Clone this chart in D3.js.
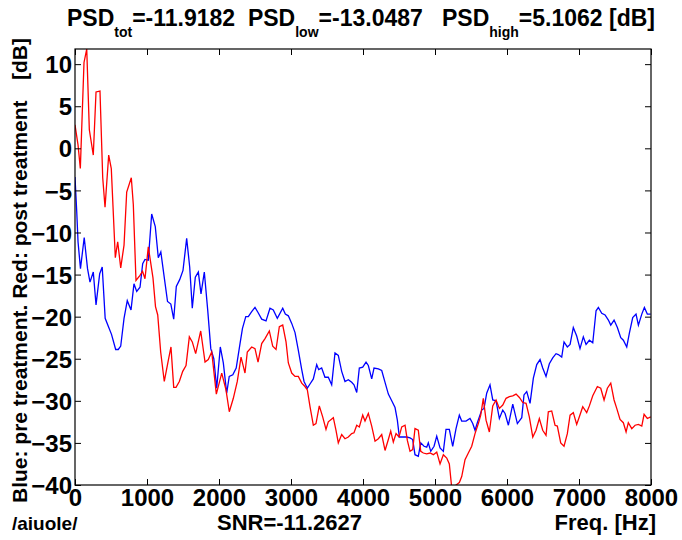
<!DOCTYPE html>
<html>
<head>
<meta charset="utf-8">
<script src="https://cdn.jsdelivr.net/npm/d3@7/dist/d3.min.js"></script>
<style>
  html, body { margin: 0; padding: 0; background: #fff; }
  svg { display: block; }
  text { font-family: "Liberation Sans", Arial, sans-serif; font-weight: bold; fill: #000; }
</style>
</head>
<body>
<svg id="chart" width="682" height="540"></svg>
<script>
// ---- data ----
const freqRed = [0,42,74,125,163,199,254,292,347,385,417,468,504,560,593,635,681,718,782,810,847,903,938,972,1018,1083,1118,1149,1190,1240,1296,1333,1371,1403,1449,1496,1542,1588,1629,1676,1746,1806,1851,1899,1963,2038,2097,2143,2199,2254,2306,2361,2393,2454,2500,2542,2593,2639,2699,2746,2792,2838,2885,2931,2963,3010,3056,3102,3149,3194,3227,3264,3310,3347,3393,3440,3486,3518,3588,3625,3657,3704,3750,3796,3843,3875,3913,3949,3996,4028,4074,4121,4167,4213,4260,4306,4352,4385,4421,4459,4500,4538,4584,4616,4653,4690,4722,4768,4802,4838,4885,4931,4977,5024,5070,5116,5163,5199,5232,5278,5338,5371,5417,5463,5510,5556,5602,5635,5671,5709,5755,5802,5848,5894,5941,5987,6033,6080,6126,6172,6219,6265,6310,6358,6403,6449,6496,6542,6574,6621,6667,6699,6746,6792,6838,6876,6921,6968,7005,7052,7107,7144,7191,7255,7302,7348,7394,7441,7487,7524,7570,7616,7654,7685,7733,7779,7825,7872,7904,7949,7996];
const dbRed = [2.8,0.4,-2.4,10.2,11.8,2.2,-0.8,6.7,6.8,-3.5,-7,-0.8,-2.4,-13,-11.1,-14.2,-11.5,-5.2,-3.5,-6.7,-15.7,-15.1,-14.6,-15.5,-11.7,-15.4,-18.8,-19.8,-24.2,-27.7,-25.2,-23.6,-28.4,-28.4,-27.7,-26.5,-25.8,-22.4,-23,-24.4,-21.7,-25.4,-25.1,-24.2,-29.2,-26.7,-28.7,-31.3,-29.7,-27.7,-24.8,-26.7,-24.2,-23.6,-23.8,-25.4,-23.2,-22.6,-21.7,-23.5,-23.9,-21.2,-21,-23,-25.5,-26.7,-27.1,-27.1,-27.9,-28.3,-28.7,-30.7,-32.9,-32.7,-30.6,-31.9,-33.4,-32.5,-32,-33.5,-35,-34,-34.5,-34.3,-33.9,-33.8,-32.9,-33.1,-31.7,-32.4,-31.5,-33,-34.8,-34.5,-34,-35.9,-34.6,-33.6,-34.9,-33.9,-34.3,-33.1,-32.9,-34.7,-36,-35.8,-33.3,-33.5,-36,-36.2,-36.3,-36.2,-36.4,-36.1,-37.5,-36.4,-36.8,-37.5,-40.3,-40.1,-39.7,-39,-37,-36.2,-35.4,-33.9,-32.7,-31.7,-29.7,-32.3,-33.7,-30.6,-29.9,-30.9,-30.5,-29.7,-29.5,-29.4,-29.2,-29.6,-30.2,-30.3,-31.9,-34.3,-33.5,-32.1,-33.5,-34.1,-31.3,-31.2,-32.9,-33,-35,-35.4,-33.9,-31.7,-31.4,-32.8,-31.9,-30.7,-31.4,-30.6,-29.4,-28.3,-28.5,-29.9,-28.5,-27.9,-29.9,-30.9,-32.2,-32.6,-33.7,-32.6,-33.3,-32.9,-32.8,-33,-31.6,-32.1,-31.9];

const freqBlue = [0,24,42,76,128,174,208,254,292,343,378,419,465,507,565,601,635,681,726,778,819,857,903,940,972,1018,1065,1115,1157,1192,1239,1285,1331,1371,1407,1454,1500,1551,1593,1629,1671,1713,1750,1796,1843,1886,1928,1968,2018,2060,2107,2142,2192,2239,2292,2326,2372,2407,2454,2500,2542,2593,2653,2708,2754,2810,2885,2921,2963,3010,3056,3102,3149,3181,3227,3264,3310,3357,3385,3426,3472,3518,3565,3611,3657,3704,3750,3796,3843,3875,3913,3949,3996,4042,4074,4121,4153,4213,4260,4306,4352,4399,4445,4477,4505,4552,4607,4653,4690,4722,4768,4802,4848,4885,4907,4941,4987,5024,5070,5116,5153,5199,5246,5292,5338,5371,5431,5486,5524,5556,5588,5649,5681,5718,5764,5802,5848,5894,5941,5973,6019,6080,6144,6205,6236,6274,6320,6366,6413,6459,6496,6542,6588,6635,6681,6713,6760,6792,6838,6876,6921,6968,7014,7060,7098,7144,7191,7237,7269,7316,7362,7408,7441,7487,7533,7580,7616,7663,7699,7746,7792,7825,7872,7908,7949,7996];
const dbBlue = [-3.4,-7.5,-11.1,-14.3,-10.6,-14.3,-15.9,-14.7,-18.6,-14.9,-14.1,-20.2,-21.2,-22.1,-23.9,-23.9,-23.5,-20.2,-18.1,-19.2,-16.1,-17,-16.5,-13.7,-13.2,-13.3,-7.8,-9.3,-13,-12.3,-15.3,-18.2,-18.5,-20.3,-16.4,-15.6,-14.5,-10.7,-14.1,-19,-15.3,-14.7,-17.3,-14.7,-19.2,-23.8,-25,-28.5,-23.6,-25.5,-29.1,-27.1,-26.9,-26.1,-23.2,-21.4,-20,-20,-19.4,-18.9,-19.5,-20.3,-20.5,-19,-19.2,-20.2,-19,-19.7,-19.9,-20.8,-21.9,-24,-26.3,-27.7,-28.5,-28,-27.4,-25.7,-26.3,-26.1,-27.2,-27.2,-28.1,-24.3,-24.6,-26.5,-27.7,-27.5,-27.8,-28.1,-29,-26.1,-26,-25.4,-25.8,-27.4,-26.1,-26.2,-26.4,-27.8,-29.2,-30,-30.8,-32.3,-34.3,-34.3,-34.3,-34.4,-34.6,-36.4,-36.6,-35,-35.4,-35.5,-35,-36,-35.4,-34.2,-35.6,-36,-33.4,-33.4,-35.4,-33.3,-31.7,-32.4,-32.4,-32.1,-32.7,-33.5,-32.6,-31.1,-30.9,-29.1,-28.1,-29.9,-30,-32.1,-31.1,-31.5,-32.9,-30.4,-32.7,-32,-29.3,-28.9,-30.3,-27.3,-25.7,-25.1,-26.1,-27.1,-25.6,-24.9,-24.4,-24.5,-24.8,-23,-23.6,-23.3,-21.3,-22.3,-23.8,-22.4,-23.3,-22.8,-23.1,-19.3,-18.9,-19.6,-19.8,-20.4,-21,-20.4,-21.3,-22.5,-22.8,-23.6,-22,-20.1,-19.7,-21,-19.7,-18.9,-19.7,-19.7];

const xTicks = [0,1000,2000,3000,4000,5000,6000,7000,8000];
const yTicks = [-40,-35,-30,-25,-20,-15,-10,-5,0,5,10];

const titleParts = [
  {label: "PSD", sub: "tot", value: "=-11.9182"},
  {label: "PSD", sub: "low", value: "=-13.0487"},
  {label: "PSD", sub: "high", value: "=5.1062 [dB]"}
];
const yLabelText = "Blue: pre treatment. Red: post treatment";
const yUnitText = "[dB]";
const bottomLeftText = "/aiuole/";
const snrText = "SNR=-11.2627";
const xLabelText = "Freq. [Hz]";

// ---- layout ----
const svg = d3.select("#chart");
const L = 75, R = 651, T = 49, B = 485;
const FONT = '"Liberation Sans", Arial, sans-serif';

const x = d3.scaleLinear().domain([0, 8000]).range([L, R]);
const y = d3.scaleLinear().domain([-40, d3.max(dbRed)]).range([B, T]);

// clip
svg.append("defs").append("clipPath").attr("id", "plotclip")
  .append("rect").attr("x", L).attr("y", T).attr("width", R - L).attr("height", B - T);

// lines
const line = d3.line().x(d => x(d[0])).y(d => y(d[1]));
const g = svg.append("g").attr("clip-path", "url(#plotclip)");
g.append("path").datum(d3.zip(freqBlue, dbBlue))
  .attr("d", line).attr("fill", "none").attr("stroke", "#0000ff").attr("stroke-width", 1.3);
g.append("path").datum(d3.zip(freqRed, dbRed))
  .attr("d", line).attr("fill", "none").attr("stroke", "#ff0000").attr("stroke-width", 1.3);

// axes (ticks inside, MATLAB style)
const tickLen = 6;
const axB = d3.axisBottom(x).tickValues(xTicks).tickSizeInner(-tickLen).tickSizeOuter(0).tickPadding(4).tickFormat(d3.format("d"));
const axT = d3.axisTop(x).tickValues(xTicks).tickSizeInner(-tickLen).tickSizeOuter(0).tickFormat("");
const axL = d3.axisLeft(y).tickValues(yTicks).tickSizeInner(-tickLen).tickSizeOuter(0).tickPadding(3).tickFormat(d3.format("d"));
const axR = d3.axisRight(y).tickValues(yTicks).tickSizeInner(-tickLen).tickSizeOuter(0).tickFormat("");

function styleAxis(sel) {
  sel.select(".domain").remove();
  sel.selectAll("line").attr("stroke", "#000").attr("stroke-width", 1);
  sel.selectAll("text").style("font-family", FONT)
    .style("font-weight", "bold").style("font-size", "24px").attr("fill", "#000");
}
svg.append("g").attr("transform", `translate(0,${B})`).call(axB).call(styleAxis)
  .selectAll("text").attr("dy", "0.71em");
svg.append("g").attr("transform", `translate(0,${T})`).call(axT).call(styleAxis);
svg.append("g").attr("transform", `translate(${L},0)`).call(axL).call(styleAxis)
  .selectAll("text").attr("dy", "0.36em");
svg.append("g").attr("transform", `translate(${R},0)`).call(axR).call(styleAxis);

// box
svg.append("rect").attr("x", L).attr("y", T).attr("width", R - L).attr("height", B - T)
  .attr("fill", "none").attr("stroke", "#000").attr("stroke-width", 1.2);

// title with subscripts
const title = svg.append("text").attr("x", (L + R) / 2 - 2).attr("y", 26)
  .attr("text-anchor", "middle").style("font-size", "23px");
titleParts.forEach((p, i) => {
  title.append("tspan").text((i === 0 ? "" : (i === 1 ? "\u00a0\u00a0" : "\u00a0\u00a0\u00a0")) + p.label);
  title.append("tspan").attr("dy", 11).style("font-size", "14px").text(p.sub);
  title.append("tspan").attr("dy", -11).text(p.value);
});

// y label (rotated)
svg.append("text").attr("transform", "translate(27,503) rotate(-90)")
  .attr("text-anchor", "start").style("font-size", "21px").text(yLabelText);
svg.append("text").attr("transform", "translate(27,38) rotate(-90)")
  .attr("text-anchor", "end").style("font-size", "21px").text(yUnitText);

// bottom texts
svg.append("text").attr("x", 12).attr("y", 530).style("font-size", "19px").text(bottomLeftText);
svg.append("text").attr("x", 217).attr("y", 530).style("font-size", "22px").text(snrText);
svg.append("text").attr("x", 656).attr("y", 530).attr("text-anchor", "end").style("font-size", "22px").text(xLabelText);
</script>
</body>
</html>
